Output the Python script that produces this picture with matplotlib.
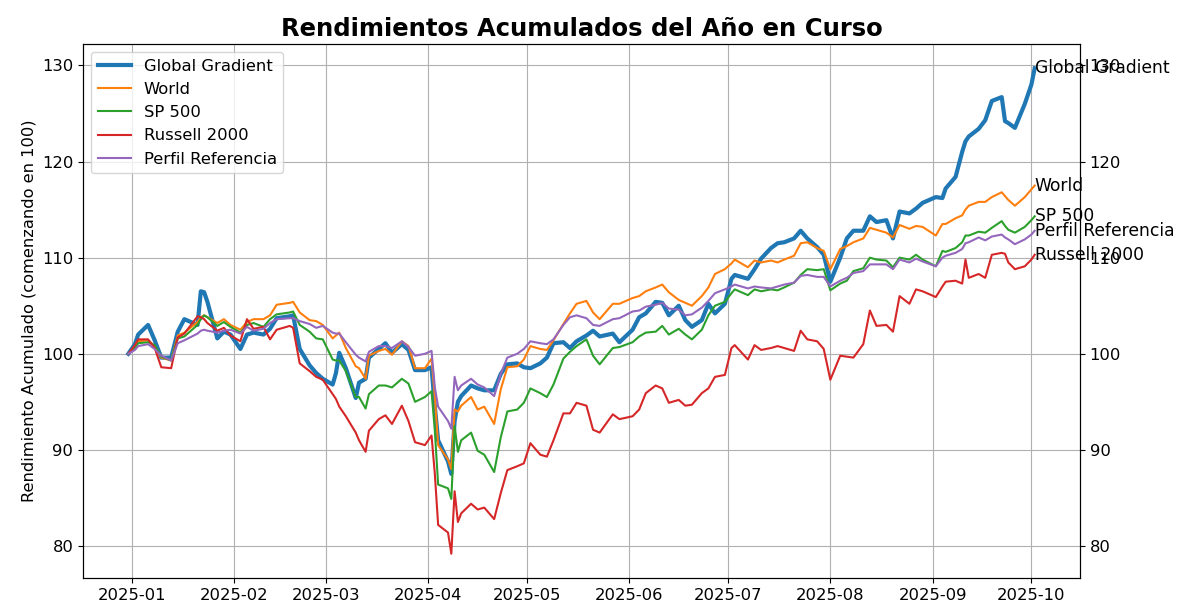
import matplotlib
matplotlib.use("Agg")
import matplotlib.pyplot as plt
import numpy as np
import pandas as pd

# fechas de cotizacion (muestreadas)
fechas = [
    "2024-12-31", "2025-01-02", "2025-01-03", "2025-01-06", "2025-01-08", "2025-01-10",
    "2025-01-13", "2025-01-15", "2025-01-17", "2025-01-21", "2025-01-22", "2025-01-23",
    "2025-01-24", "2025-01-27", "2025-01-29", "2025-01-31", "2025-02-03", "2025-02-05",
    "2025-02-07", "2025-02-10", "2025-02-12", "2025-02-14", "2025-02-18", "2025-02-19",
    "2025-02-21", "2025-02-24", "2025-02-26", "2025-02-28", "2025-03-03", "2025-03-04",
    "2025-03-05", "2025-03-07", "2025-03-10", "2025-03-11", "2025-03-13", "2025-03-14",
    "2025-03-17", "2025-03-19", "2025-03-21", "2025-03-24", "2025-03-26", "2025-03-28",
    "2025-03-31", "2025-04-02", "2025-04-03", "2025-04-04", "2025-04-07", "2025-04-08",
    "2025-04-09", "2025-04-10", "2025-04-11", "2025-04-14", "2025-04-16", "2025-04-18",
    "2025-04-21", "2025-04-23", "2025-04-25", "2025-04-28", "2025-04-30", "2025-05-02",
    "2025-05-05", "2025-05-07", "2025-05-09", "2025-05-12", "2025-05-14", "2025-05-16",
    "2025-05-19", "2025-05-21", "2025-05-23", "2025-05-27", "2025-05-29", "2025-06-02",
    "2025-06-04", "2025-06-06", "2025-06-09", "2025-06-11", "2025-06-13", "2025-06-16",
    "2025-06-18", "2025-06-20", "2025-06-23", "2025-06-25", "2025-06-27", "2025-06-30",
    "2025-07-02", "2025-07-03", "2025-07-07", "2025-07-09", "2025-07-11", "2025-07-14",
    "2025-07-16", "2025-07-18", "2025-07-21", "2025-07-23", "2025-07-25", "2025-07-28",
    "2025-07-30", "2025-08-01", "2025-08-04", "2025-08-06", "2025-08-08", "2025-08-11",
    "2025-08-13", "2025-08-15", "2025-08-18", "2025-08-20", "2025-08-22", "2025-08-25",
    "2025-08-27", "2025-08-29", "2025-09-02", "2025-09-04", "2025-09-05", "2025-09-08",
    "2025-09-10", "2025-09-11", "2025-09-12", "2025-09-15", "2025-09-17", "2025-09-19",
    "2025-09-22", "2025-09-23", "2025-09-24", "2025-09-26", "2025-09-29", "2025-10-01",
    "2025-10-02",
]

global_gradient = [
    100.0, 101.0, 102.0, 103.0, 101.4, 99.6, 99.6, 102.3, 103.6, 103.0, 106.5, 106.4,
    105.4, 101.6, 102.3, 102.0, 100.5, 102.0, 102.2, 102.0, 102.6, 103.7, 103.9, 104.0,
    100.5, 98.8, 98.0, 97.4, 96.8, 98.0, 100.1, 98.5, 95.4, 97.0, 97.4, 99.6,
    100.5, 101.1, 100.1, 101.0, 100.4, 98.3, 98.3, 98.6, 94.5, 91.0, 88.8, 87.5,
    93.0, 95.0, 95.6, 96.7, 96.4, 96.2, 96.2, 97.9, 98.9, 99.0, 98.6, 98.5,
    99.0, 99.6, 101.1, 101.2, 100.6, 101.3, 101.9, 102.4, 101.8, 102.1, 101.2, 102.5,
    103.8, 104.2, 105.4, 105.3, 104.0, 105.0, 103.5, 102.8, 103.5, 105.2, 104.2, 105.2,
    107.8, 108.2, 107.8, 108.8, 109.9, 111.0, 111.5, 111.6, 112.0, 112.8, 112.0, 111.1,
    110.3, 107.5, 110.0, 112.0, 112.8, 112.8, 114.3, 113.7, 113.9, 112.0, 114.8, 114.6,
    115.1, 115.7, 116.3, 116.2, 117.2, 118.4, 121.0, 122.1, 122.6, 123.4, 124.3, 126.3,
    126.7, 124.2, 124.0, 123.5, 126.0, 128.0, 129.7,
]

world = [
    100.0, 100.7, 101.3, 101.4, 100.8, 99.6, 99.3, 101.9, 102.2, 103.3, 103.8, 104.0,
    103.8, 103.2, 103.6, 103.0, 102.5, 103.3, 103.6, 103.6, 104.0, 105.1, 105.3, 105.4,
    104.3, 103.5, 103.4, 103.0, 101.6, 101.9, 102.2, 100.6, 98.7, 98.5, 97.4, 99.8,
    100.3, 100.5, 99.9, 101.3, 100.8, 98.5, 98.5, 99.5, 95.5, 90.5, 89.0, 88.0,
    94.2, 94.0, 94.6, 95.5, 94.2, 94.5, 92.7, 96.3, 98.6, 98.7, 99.4, 100.8,
    100.5, 100.4, 101.4, 103.1, 104.2, 105.2, 105.5, 104.3, 103.6, 105.2, 105.2, 105.8,
    106.0, 106.5, 106.9, 107.2, 106.4, 105.6, 105.3, 105.0, 106.0, 106.9, 108.3, 108.8,
    109.4, 109.8, 109.0, 109.7, 109.5, 109.7, 109.5, 109.8, 110.2, 111.5, 111.6, 111.0,
    110.7, 108.8, 110.9, 111.2, 111.6, 112.0, 113.1, 112.9, 112.6, 112.1, 113.4, 113.0,
    113.3, 113.2, 112.3, 113.5, 113.5, 114.1, 114.4, 115.0, 115.4, 115.8, 115.8, 116.3,
    116.8, 116.4, 116.0, 115.4, 116.3, 117.1, 117.5,
]

sp500 = [
    100.0, 100.6, 101.1, 101.2, 100.9, 99.7, 99.3, 101.6, 101.8, 103.0, 103.6, 104.0,
    103.8, 102.9, 103.3, 102.8, 102.2, 103.0, 103.2, 102.8, 103.6, 104.1, 104.3, 104.4,
    103.0, 102.3, 101.6, 101.5, 99.4, 99.3, 99.3, 98.2, 95.5, 95.5, 94.3, 95.8,
    96.7, 96.7, 96.5, 97.4, 96.9, 95.0, 95.5, 96.1, 92.0, 86.4, 86.0, 84.9,
    92.5, 89.8, 91.0, 91.8, 89.9, 89.5, 87.7, 91.3, 94.0, 94.2, 94.9, 96.4,
    95.9, 95.5, 96.8, 99.5, 100.2, 100.8, 101.5, 99.8, 98.9, 100.6, 100.7, 101.2,
    101.8, 102.2, 102.3, 102.9, 102.0, 102.6, 102.0, 101.5, 102.5, 104.0, 105.0, 105.4,
    106.3, 106.7, 106.1, 106.7, 106.5, 106.7, 106.6, 106.9, 107.4, 108.2, 108.8, 108.7,
    108.8, 106.6, 107.3, 107.6, 108.6, 108.9, 110.0, 109.8, 109.7, 109.0, 110.0, 109.8,
    110.3, 109.8, 109.1, 110.7, 110.6, 111.0, 111.6, 112.3, 112.3, 112.7, 112.6, 113.1,
    113.8, 113.3, 112.9, 112.6, 113.2, 113.9, 114.3,
]

russell_2000 = [
    100.0, 100.9, 101.5, 101.5, 100.6, 98.6, 98.5, 101.7, 102.1, 103.9, 103.8, 103.6,
    103.2, 102.4, 102.7, 101.9, 101.3, 103.6, 102.6, 102.8, 101.5, 102.5, 102.9, 102.7,
    99.0, 98.2, 97.6, 97.3, 95.8, 95.3, 94.5, 93.5, 91.8, 91.0, 89.8, 92.0,
    93.2, 93.6, 92.7, 94.6, 93.0, 90.8, 90.5, 91.5, 87.5, 82.2, 81.4, 79.2,
    85.7, 82.5, 83.4, 84.4, 83.8, 84.0, 82.8, 85.5, 87.9, 88.3, 88.6, 90.7,
    89.5, 89.3, 91.0, 93.8, 93.8, 94.9, 94.6, 92.1, 91.8, 93.7, 93.2, 93.5,
    94.2, 95.9, 96.7, 96.4, 94.9, 95.2, 94.6, 94.7, 95.9, 96.4, 97.6, 97.8,
    100.6, 100.9, 99.4, 100.9, 100.4, 100.6, 100.8, 100.6, 100.3, 102.4, 101.5, 101.3,
    100.5, 97.3, 99.8, 99.7, 99.6, 101.0, 104.5, 102.9, 103.0, 102.3, 106.0, 105.2,
    106.7, 106.5, 105.9, 107.0, 107.5, 107.6, 107.3, 109.8, 107.9, 108.3, 107.9, 110.3,
    110.5, 110.4, 109.5, 108.8, 109.1, 109.8, 110.3,
]

perfil_referencia = [
    100.0, 100.4, 100.8, 101.0, 100.5, 99.8, 99.3, 101.1, 101.4, 102.1, 102.4, 102.5,
    102.4, 102.2, 102.4, 102.5, 102.1, 102.8, 102.4, 102.6, 103.2, 103.6, 103.7, 103.7,
    103.4, 103.1, 102.7, 102.9, 102.2, 102.1, 102.1, 101.2, 99.9, 99.6, 99.2, 100.2,
    100.8, 100.8, 100.6, 101.3, 100.7, 99.8, 100.0, 100.3, 96.5, 94.5, 93.0, 92.2,
    97.6, 96.2, 96.7, 97.4, 96.8, 96.5, 95.6, 97.9, 99.6, 100.0, 100.5, 101.3,
    101.1, 101.0, 101.5, 103.0, 103.8, 104.0, 103.7, 103.0, 102.9, 103.6, 103.7, 104.4,
    104.5, 104.9, 105.1, 105.3, 104.7, 104.6, 104.0, 104.1, 104.8, 105.5, 106.3, 106.7,
    107.0, 107.2, 106.8, 107.0, 106.9, 106.8, 107.0, 107.2, 107.4, 108.1, 108.2, 108.0,
    108.0, 107.0, 107.6, 107.9, 108.4, 108.6, 109.3, 109.3, 109.3, 108.8, 109.8, 109.5,
    109.9, 109.6, 109.1, 110.0, 110.2, 110.5, 110.9, 111.5, 111.6, 112.1, 111.8, 112.2,
    112.4, 112.1, 111.9, 111.4, 111.9, 112.4, 112.8,
]

nombres = ["Global Gradient", "World", "SP 500", "Russell 2000", "Perfil Referencia"]
series = [global_gradient, world, sp500, russell_2000, perfil_referencia]


def main():
    x = pd.to_datetime(fechas)

    fig, ax = plt.subplots(figsize=(11.82, 6.03), dpi=100)
    fig.subplots_adjust(left=83 / 1182, right=1080 / 1182,
                        top=1 - 44 / 603, bottom=1 - 578 / 603)

    for nombre, vals in zip(nombres, series):
        lw = 3 if nombre == "Global Gradient" else 1.5
        ax.plot(x, vals, label=nombre, linewidth=lw)
        ax.text(x[-1], vals[-1], nombre, ha="left", va="center", fontsize=12.3)

    ax.set_title("Rendimientos Acumulados del Año en Curso",
                 fontsize=17.5, fontweight="bold")
    ax.set_ylabel("Rendimiento Acumulado (comenzando en 100)", fontsize=11.7)
    ax.grid(True)
    ax.legend(loc="upper left", fontsize=11.8)
    ax.tick_params(labelsize=11.8)

    ax2 = ax.twinx()
    ax2.set_ylim(ax.get_ylim())
    ax2.tick_params(labelsize=11.8)

    fig.savefig("out.png", dpi=100)


if __name__ == "__main__":
    main()
